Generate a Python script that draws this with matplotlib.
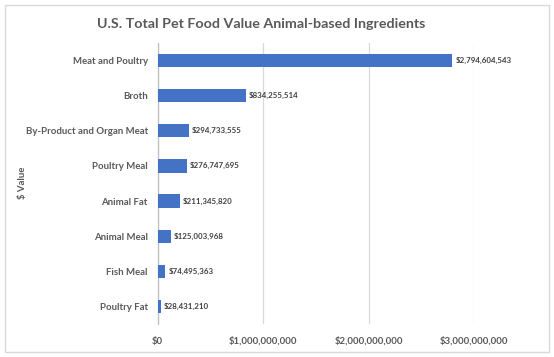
import matplotlib.pyplot as plt
from matplotlib.patches import Rectangle

plt.rcParams["font.family"] = ["Lato", "DejaVu Sans"]

# chart data (top to bottom as drawn)
categories = [
    "Meat and Poultry",
    "Broth",
    "By-Product and Organ Meat",
    "Poultry Meal",
    "Animal Fat",
    "Animal Meal",
    "Fish Meal",
    "Poultry Fat",
]
values = [
    2794604543,
    834255514,
    294733555,
    276747695,
    211345820,
    125003968,
    74495363,
    28431210,
]
x_ticks = [0, 1_000_000_000, 2_000_000_000, 3_000_000_000]

bar_color = "#4472C4"
text_gray = "#595959"

fig = plt.figure(figsize=(5.54, 3.57), dpi=100)

# light chart border
border = Rectangle(
    (5 / 554, 5 / 357), 544 / 554, 347 / 357,
    transform=fig.transFigure, facecolor="none",
    edgecolor="#D9D9D9", linewidth=1.0, zorder=-1,
)
fig.patches.append(border)

ax = fig.add_axes([0.2843, 0.0924, 0.5713, 0.7872])
ax.set_facecolor("none")

pos = list(range(len(categories)))[::-1]
ax.barh(pos, values, height=0.38, color=bar_color, zorder=3)

for p, v in zip(pos, values):
    ax.text(v + 30_000_000, p, f"${v:,.0f}", va="center", ha="left",
            fontsize=5.7, color="#404040", fontweight="bold")

ax.set_ylim(-0.5, len(categories) - 0.5)
ax.set_yticks(pos)
ax.set_yticklabels(categories, fontsize=6.9, color=text_gray,
                   fontweight="bold")
ax.set_xlim(0, 3_000_000_000)
ax.set_xticks(x_ticks)
ax.set_xticklabels([f"${t:,.0f}" for t in x_ticks], fontsize=6.9,
                   color=text_gray, fontweight="bold")

ax.grid(axis="x", color="#D9D9D9", linewidth=0.9, zorder=0)
ax.tick_params(axis="both", length=0)
ax.tick_params(axis="y", pad=7)
ax.tick_params(axis="x", pad=9)
for s in ["top", "right", "bottom"]:
    ax.spines[s].set_visible(False)
ax.spines["left"].set_color("#BFBFBF")
ax.spines["left"].set_linewidth(0.9)

fig.text(0.471, 0.933, "U.S. Total Pet Food Value Animal-based Ingredients",
         ha="center", va="center", fontsize=10.3, color=text_gray,
         fontweight="bold")
fig.text(23 / 554, 1 - 183 / 357, "$ Value", rotation=90, ha="center",
         va="center", fontsize=6.9, color=text_gray, fontweight="bold")

fig.savefig("out.png", dpi=100)
